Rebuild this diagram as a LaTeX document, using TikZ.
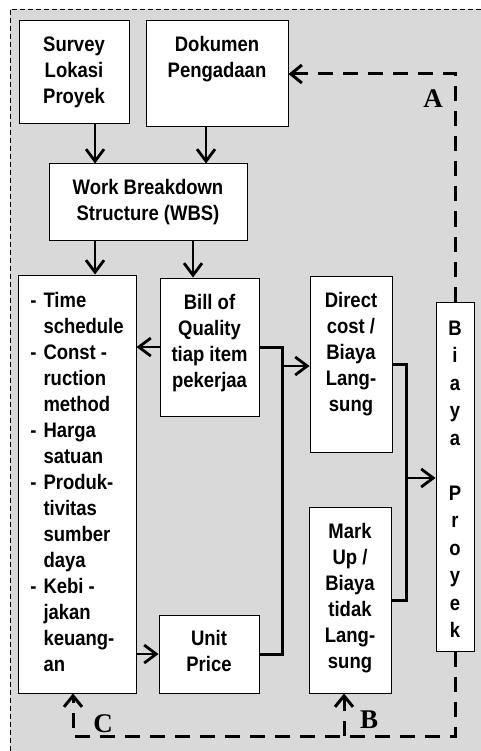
\documentclass[tikz,border=0pt]{standalone}
\usepackage{fontspec}
\setmainfont{Liberation Sans}[FakeStretch=0.88]
\newfontfamily\lblfont{Liberation Serif}
\usetikzlibrary{arrows.meta}
\newcommand{\boxlines}[1]{\begin{tabular}[t]{@{}c@{}}#1\end{tabular}}

\begin{document}
\begin{tikzpicture}[x=1pt, y=-1pt,
  font=\bfseries\fontsize{21}{26}\selectfont,
  box/.style={draw, line width=1pt, fill=white, inner sep=0pt, text height=31pt},
  vert/.style={font=\bfseries\fontsize{21}{27.5}\selectfont, text height=33pt},
  conn/.style={line width=2.8pt, -{Straight Barb[length=12pt, width=18pt]}},
  wire/.style={line width=3pt},
  fb/.style={line width=3pt, dash pattern=on 15pt off 10pt, -{Straight Barb[length=11pt, width=18pt]}},
  lbl/.style={font=\lblfont\bfseries\fontsize{27}{27}\selectfont}]
\useasboundingbox (0,0) rectangle (481,751);
%%% background
\fill[gray!30] (10,9) rectangle (481,751);
\draw[line width=0.9pt, dash pattern=on 5pt off 3pt] (10,751) -- (10,9) -- (481,9);
%%% boxes
% top row
\node[box, minimum width=110pt, text depth=72pt] (survey) at (74,72.5) {\boxlines{Survey\\Lokasi\\Proyek}};
\node[box, minimum width=142pt, text depth=75pt] (dokumen) at (217,74) {\boxlines{Dokumen\\Pengadaan}};
\node[box, minimum width=198pt, text depth=45pt] (wbs) at (148,202) {\boxlines{Work Breakdown\\Structure (WBS)}};
% left list
\node[box, minimum width=118pt, text depth=386pt, text height=32pt] (list) at (77,484)
  {\begin{tabular}[t]{@{}l@{\hspace{7pt}}l@{}}
  - & Time\\ & schedule\\
  - & Const -\\ & ruction\\ & method\\
  - & Harga\\ & satuan\\
  - & Produk-\\ & tivitas\\ & sumber\\ & daya\\
  - & Kebi -\\ & jakan\\ & keuang-\\ & an
  \end{tabular}};
% middle column
\node[box, minimum width=99pt, text depth=107pt] (boq) at (209.5,347) {\boxlines{Bill of\\Quality\\tiap item\\pekerjaa}};
\node[box, minimum width=100pt, text depth=48pt, text height=30pt] (unitp) at (209,654) {\boxlines{Unit\\Price}};
% cost boxes
\node[box, minimum width=82pt, text depth=145pt] (direct) at (351,364) {\boxlines{Direct\\cost /\\Biaya\\Lang-\\sung}};
\node[box, minimum width=82pt, text depth=155pt] (markup) at (350,600) {\boxlines{Mark\\Up /\\Biaya\\tidak\\Lang-\\sung}};
\node[box, vert, minimum width=38pt, text depth=316pt] (proyek) at (455,476.5) {\boxlines{B\\i\\a\\y\\a\\ \\P\\r\\o\\y\\e\\k}};
%%% connectors
% down from the top row
\draw[conn] ([xshift=21pt]survey.south) -- ([xshift=21pt]survey.south |- wbs.north);
\draw[conn] ([xshift=-11pt]dokumen.south) -- ([xshift=-11pt]dokumen.south |- wbs.north);
\draw[conn] ([xshift=-53pt]wbs.south) -- ([xshift=-53pt]wbs.south |- list.north);
\draw[conn] ([xshift=45pt]wbs.south) -- ([xshift=45pt]wbs.south |- boq.north);
% sideways
\draw[conn] (boq.west) -- (boq.west -| list.east);
\draw[conn] (unitp.west -| list.east) -- (unitp.west);
% joins into the costs
\coordinate (j1) at (282,366);
\draw[wire] (boq.east) -| (j1) |- (unitp.east);
\draw[conn] (j1) -- (j1 -| direct.west);
\coordinate (j2) at (406,478);
\draw[wire] (direct.east) -| (j2) |- (markup.east);
\draw[conn] (j2) -- (j2 -| proyek.west);
%%% feedback lines
\coordinate (fbC) at (73,736);
\coordinate (fbB) at (344,736);
\draw[fb] (proyek.north) |- (dokumen.east);
\draw[fb] (proyek.south) |- (fbC) -- (fbC |- list.south);
\draw[fb] (fbB) -- (fbB |- markup.south);
% labels
\node[lbl] (labA) at (433,99) {A};
\node[lbl] (labB) at (369,720) {B};
\node[lbl] (labC) at (103,724) {C};
\end{tikzpicture}
\end{document}
